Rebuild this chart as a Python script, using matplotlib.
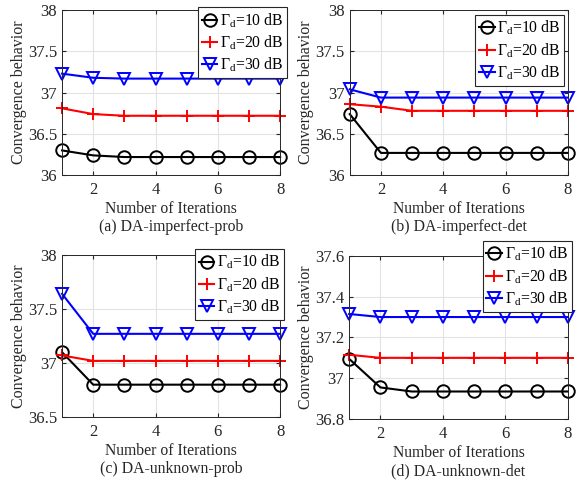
import matplotlib
matplotlib.use("Agg")
import matplotlib.pyplot as plt

plt.rcParams['font.family'] = ['Liberation Serif', 'DejaVu Serif']
plt.rcParams['mathtext.fontset'] = 'custom'
plt.rcParams['mathtext.rm'] = 'Liberation Serif'
plt.rcParams['mathtext.it'] = 'Liberation Serif'

iterations = [1, 2, 3, 4, 5, 6, 7, 8]
series_labels = [r'$\mathrm{\Gamma_d}$=10 dB', r'$\mathrm{\Gamma_d}$=20 dB', r'$\mathrm{\Gamma_d}$=30 dB']

a_10 = [36.30, 36.24, 36.22, 36.22, 36.22, 36.22, 36.22, 36.22]
a_20 = [36.81, 36.74, 36.72, 36.72, 36.72, 36.72, 36.72, 36.72]
a_30 = [37.23, 37.18, 37.17, 37.17, 37.17, 37.17, 37.17, 37.17]

b_10 = [36.74, 36.27, 36.27, 36.27, 36.27, 36.27, 36.27, 36.27]
b_20 = [36.86, 36.83, 36.78, 36.78, 36.78, 36.78, 36.78, 36.78]
b_30 = [37.04, 36.94, 36.94, 36.94, 36.94, 36.94, 36.94, 36.94]

c_10 = [37.10, 36.80, 36.80, 36.80, 36.80, 36.80, 36.80, 36.80]
c_20 = [37.07, 37.02, 37.02, 37.02, 37.02, 37.02, 37.02, 37.02]
c_30 = [37.64, 37.27, 37.27, 37.27, 37.27, 37.27, 37.27, 37.27]

d_10 = [37.095, 36.955, 36.935, 36.935, 36.935, 36.935, 36.935, 36.935]
d_20 = [37.115, 37.10, 37.10, 37.10, 37.10, 37.10, 37.10, 37.10]
d_30 = [37.315, 37.30, 37.30, 37.30, 37.30, 37.30, 37.30, 37.30]

captions = ['(a) DA-imperfect-prob', '(b) DA-imperfect-det',
            '(c) DA-unknown-prob', '(d) DA-unknown-det']
ylims = [(36, 38), (36, 38), (36.5, 38), (36.8, 37.6)]
yticks = [[36, 36.5, 37, 37.5, 38], [36, 36.5, 37, 37.5, 38],
          [36.5, 37, 37.5, 38], [36.8, 37.0, 37.2, 37.4, 37.6]]
ytick_labels = [['36', '36.5', '37', '37.5', '38'], ['36', '36.5', '37', '37.5', '38'],
                ['36.5', '37', '37.5', '38'], ['36.8', '37', '37.2', '37.4', '37.6']]
data = [(a_10, a_20, a_30), (b_10, b_20, b_30), (c_10, c_20, c_30), (d_10, d_20, d_30)]

positions = [[0.107, 0.635, 0.376, 0.344],
             [0.603, 0.635, 0.376, 0.344],
             [0.107, 0.131, 0.376, 0.338],
             [0.602, 0.127, 0.377, 0.340]]
legend_anchor = [(0.341, 0.985), (0.819, 0.969), (0.336, 0.481), (0.832, 0.498)]

fig = plt.figure(figsize=(5.8, 4.8), dpi=100)
styles = [dict(color='black', marker='o', markerfacecolor='none'),
          dict(color='red', marker='+'),
          dict(color='blue', marker='v', markerfacecolor='none')]

for i in range(4):
    ax = fig.add_axes(positions[i])
    for ys, st, lab in zip(data[i], styles, series_labels):
        ax.plot(iterations, ys, label=lab, linewidth=1.5, markersize=9,
                markeredgewidth=1.4, clip_on=False, **st)
    ax.set_xlim(1, 8)
    ax.set_ylim(*ylims[i])
    ax.set_xticks([2, 4, 6, 8])
    ax.set_yticks(yticks[i])
    ax.set_yticklabels(ytick_labels[i])
    ax.grid(True, color='#e3e3e3', linewidth=0.8)
    ax.set_axisbelow(True)
    ax.tick_params(labelsize=12, direction='in', length=3, colors='#262626',
                   top=True, right=True)
    ax.tick_params(axis='x', pad=5)
    for s in ax.spines.values():
        s.set_color('#262626')
        s.set_linewidth(0.7)
    ax.set_ylabel('Convergence behavior', fontsize=11.5, color='#262626', labelpad=1)
    ax.set_xlabel('Number of Iterations\n' + captions[i], fontsize=11.3,
                  color='#262626', linespacing=1.2, labelpad=2)
    leg = ax.legend(loc='upper left', bbox_to_anchor=legend_anchor[i],
                    bbox_transform=fig.transFigure, fontsize=11.3, frameon=True,
                    fancybox=False, edgecolor='#262626', framealpha=1,
                    handlelength=1.0, handletextpad=0.15, borderpad=0.25,
                    labelspacing=0.25, borderaxespad=0)
    leg.get_frame().set_linewidth(0.8)

fig.savefig('out.png', dpi=100)
